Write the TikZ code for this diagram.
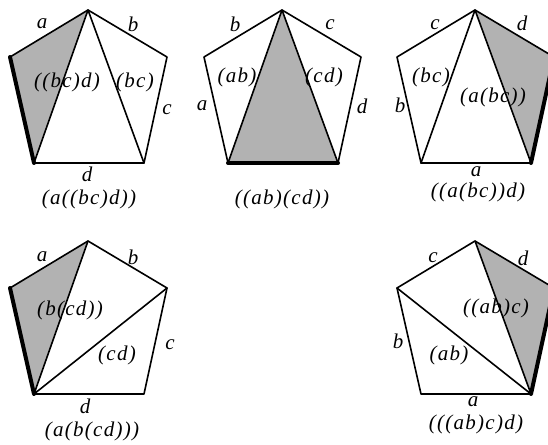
\documentclass[tikz,border=0pt]{standalone}
\usepackage{fontspec}
\newfontfamily\lblfont{Liberation Serif}[LetterSpace=6]
\newcommand\mkpent[3]{%
  \coordinate (#1t) at (#2,-#3);
  \coordinate (#1l) at (#2-78,-#3-47);
  \coordinate (#1r) at (#2+79,-#3-47);
  \coordinate (#1bl) at (#2-54,-#3-153);
  \coordinate (#1br) at (#2+56,-#3-153);
}
\tikzset{
  edge/.style={line width=1.6pt, line join=round, line cap=round},
  thickedge/.style={line width=4pt, line cap=round},
  shade/.style={fill=black!30},
  lbl/.style={inner sep=0pt, font=\lblfont\itshape\fontsize{21}{23}\selectfont},
}
\begin{document}
\begin{tikzpicture}[x=1pt,y=1pt]
\useasboundingbox[fill=white] (0,0) rectangle (548,-444);
\mkpent{A}{88}{10}
\mkpent{B}{282}{10}
\mkpent{C}{475}{10}
\mkpent{D}{88}{241}
\mkpent{E}{475}{241}

% shaded triangles
\fill[shade] (At) -- (Al) -- (Abl) -- cycle;
\fill[shade] (Bt) -- (Bbl) -- (Bbr) -- cycle;
\fill[shade] (Ct) -- (Cr) -- (Cbr) -- cycle;
\fill[shade] (Dt) -- (Dl) -- (Dbl) -- cycle;
\fill[shade] (Et) -- (Er) -- (Ebr) -- cycle;

% outlines
\foreach \p in {A,B,C,D,E}
  \draw[edge] (\p t) -- (\p r) -- (\p br) -- (\p bl) -- (\p l) -- cycle;

% diagonals
\draw[edge] (At) -- (Abl) (At) -- (Abr);
\draw[edge] (Bt) -- (Bbl) (Bt) -- (Bbr);
\draw[edge] (Ct) -- (Cbl) (Ct) -- (Cbr);
\draw[edge] (Dt) -- (Dbl) (Dr) -- (Dbl);
\draw[edge] (El) -- (Ebr) (Et) -- (Ebr);

% thick edges
\draw[thickedge] (Al) -- (Abl);
\draw[thickedge] (Bbl) -- (Bbr);
\draw[thickedge] (Cr) -- (Cbr);
\draw[thickedge] (Dl) -- (Dbl);
\draw[thickedge] (Er) -- (Ebr);

% pentagon A
\node[lbl] (Aa) at (42,-24) {a};
\node[lbl] (Ab) at (133,-24) {b};
\node[lbl] (Ac) at (167,-110) {c};
\node[lbl] (Ad) at (87,-174) {d};
\node[lbl] (Ax) at (89,-199) {(a((bc)d))};
\node[lbl] (Ai1) at (67,-82) {((bc)d)};
\node[lbl] (Ai2) at (135,-82) {(bc)};

% pentagon B
\node[lbl] (Bb) at (235,-24) {b};
\node[lbl] (Bc) at (330,-25) {c};
\node[lbl] (Ba) at (202,-106) {a};
\node[lbl] (Bd) at (362,-106) {d};
\node[lbl] (Bi1) at (237,-77) {(ab)};
\node[lbl] (Bi2) at (324,-77) {(cd)};
\node[lbl] (Bx) at (282,-199) {((ab)(cd))};

% pentagon C
\node[lbl] (Cc) at (435,-25) {c};
\node[lbl] (Cd) at (522,-23) {d};
\node[lbl] (Cb) at (400,-105) {b};
\node[lbl] (Ca) at (476,-172) {a};
\node[lbl] (Ci1) at (431,-77) {(bc)};
\node[lbl] (Ci2) at (493,-97) {(a(bc))};
\node[lbl] (Cx) at (478,-192) {((a(bc))d)};

% pentagon D
\node[lbl] (Da) at (42,-257) {a};
\node[lbl] (Db) at (133,-257) {b};
\node[lbl] (Dc) at (170,-345) {c};
\node[lbl] (Dd) at (85,-406) {d};
\node[lbl] (Di1) at (70,-310) {(b(cd))};
\node[lbl] (Di2) at (117,-355) {(cd)};
\node[lbl] (Dx) at (92,-431) {(a(b(cd)))};

% pentagon E
\node[lbl] (Ec) at (433,-258) {c};
\node[lbl] (Ed) at (523,-258) {d};
\node[lbl] (Eb) at (398,-341) {b};
\node[lbl] (Ea) at (473,-402) {a};
\node[lbl] (Ei1) at (496,-308) {((ab)c)};
\node[lbl] (Ei2) at (449,-355) {(ab)};
\node[lbl] (Ex) at (476,-424) {(((ab)c)d)};
\end{tikzpicture}
\end{document}
